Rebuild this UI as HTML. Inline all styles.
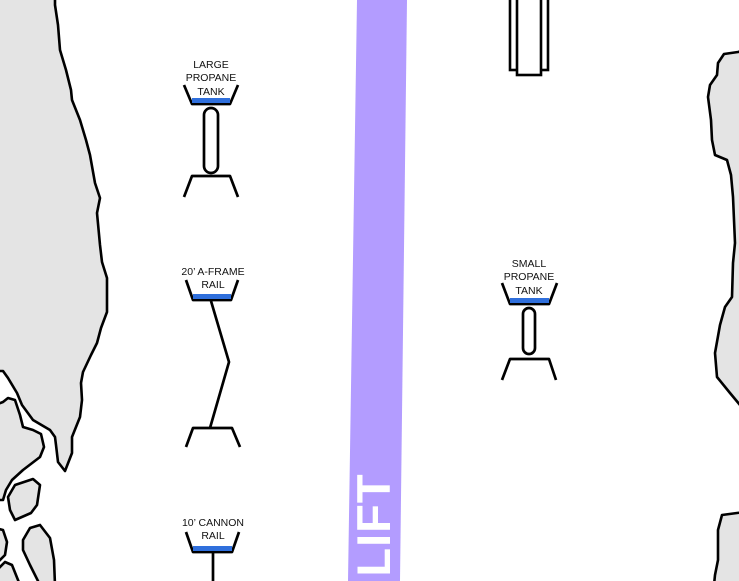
<!DOCTYPE html>
<html><head><meta charset="utf-8"><style>
html,body{margin:0;padding:0;background:#fff;}
svg{display:block;}
text{font-family:"Liberation Sans",sans-serif;font-size:10.5px;fill:#111;text-anchor:middle;}
</style></head><body>
<svg width="739" height="581" viewBox="0 0 739 581" xmlns="http://www.w3.org/2000/svg">
<rect width="739" height="581" fill="#fff"/>
<g fill="#e4e4e4" stroke="#000" stroke-width="2.6" stroke-linejoin="round">
<path d="M-5,-5 L55,-5 L55,5 L58,25 L60,50 L66,70 L71,90 L72,100 L80,120 L86,140 L90,155 L95,183 L100,198 L97,213 L100,245 L102,262 L107,278 L107,312 L101,328 L97,343 L91,355 L83,372 L81,383 L82,400 L80,417 L72,437 L72,453 L65,471 L58,462 L56,445 L55,437 L50,430 L33,420 L22,405 L17,393 L8,378 L3,371 L-5,371 Z"/>
<path d="M-5,405 L3,402 L8,398 L15,400 L20,415 L23,427 L33,430 L41,434 L44,447 L40,457 L23,470 L12,480 L6,490 L3,500 L-5,500 Z"/>
<path d="M8,497 L15,485 L33,479 L40,485 L37,505 L31,513 L15,520 L10,510 Z"/>
<path d="M-5,528 L3,530 L7,542 L5,555 L-5,565 Z"/>
<path d="M23,540 L30,528 L40,525 L50,538 L54,560 L55,585 L40,585 L30,565 L23,550 Z"/>
<path d="M-5,572 L5,562 L12,565 L20,585 L-5,585 Z"/>
</g>
<g fill="#e4e4e4" stroke="#000" stroke-width="2.6" stroke-linejoin="round">
<path d="M745,50 L738,52 L724,54 L718,63 L717,75 L710,85 L708,97 L711,120 L712,140 L715,155 L727,160 L731,175 L733,197 L735,243 L733,263 L732,297 L725,307 L720,325 L715,353 L717,377 L730,393 L740,405 L745,405 Z"/>
<path d="M745,512 L737,513 L722,515 L718,530 L718,560 L715,575 L714,585 L745,585 Z"/>
</g>
<polygon points="357,0 407,0 400,581 348,581" fill="#b39cff"/>
<text transform="translate(390,525) rotate(-90)" style="font-size:47px;font-weight:bold;fill:#fff;letter-spacing:1px;text-anchor:middle;">LIFT</text>
<g fill="#fff" stroke="#000" stroke-width="2.6">
<rect x="510" y="-5" width="38" height="75"/>
<rect x="517" y="-5" width="24" height="80"/>
</g>
<g fill="none" stroke="#000" stroke-width="2.7" stroke-linejoin="round">
<path d="M184,85 L192,104 L230,104 L238,85"/>
<rect x="204" y="108" width="14" height="65" rx="7" fill="#fff"/>
<path d="M184,197 L192,176 L230,176 L238,197"/>
<path d="M186,280 L193,300 L231,300 L238,280"/>
<path d="M211,301 L229,362 L210,428"/>
<path d="M186,447 L193,428 L232,428 L240,447"/>
<path d="M186,532 L193,552 L232,552 L239,532"/>
<path d="M213,553 L213,585"/>
<path d="M502,283 L510,304 L549,304 L557,283"/>
<rect x="523" y="308" width="12" height="46" rx="6" fill="#fff"/>
<path d="M502,380 L510,359 L549,359 L556,380"/>
</g>
<g fill="#2f6fdc">
<rect x="192" y="98" width="38" height="5"/>
<rect x="193" y="294" width="38" height="5"/>
<rect x="193" y="546" width="39" height="5"/>
<rect x="510" y="298" width="39" height="5"/>
</g>
<text x="211" y="68">LARGE</text>
<text x="211" y="81">PROPANE</text>
<text x="211" y="95">TANK</text>
<text x="213" y="275">20’ A-FRAME</text>
<text x="213" y="288">RAIL</text>
<text x="213" y="526">10’ CANNON</text>
<text x="213" y="539">RAIL</text>
<text x="529" y="267">SMALL</text>
<text x="529" y="280">PROPANE</text>
<text x="529" y="294">TANK</text>
</svg>
</body></html>
